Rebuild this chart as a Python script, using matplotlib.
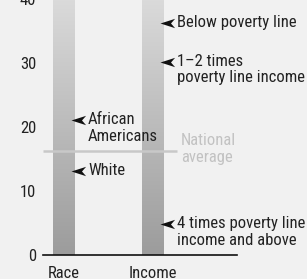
import numpy as np
import matplotlib
matplotlib.use("Agg")
import matplotlib.pyplot as plt
from matplotlib.path import Path
from matplotlib.colors import LinearSegmentedColormap

# ---- data ----
categories = ["Race", "Income"]
bar_tops = [41, 41]                      # scale bars run to top of chart
yticks = [0, 10, 20, 30, 40]
national_average = 16.2

race_labels = ["African\nAmericans", "White"]
race_values = [21.1, 13.2]
income_labels = ["Below poverty line", "1\u20132 times\npoverty line income",
                 "4 times poverty line\nincome and above"]
income_values = [36.2, 30.2, 4.9]

# ---- style ----
BG = "#f1f1f1"
TXT = "#222222"
FONT = ["Roboto Condensed", "DejaVu Sans"]
FS = 12
LS = 1.15

W, H, DPI = 307, 279, 100
fig = plt.figure(figsize=(W / DPI, H / DPI), dpi=DPI, facecolor=BG)
ax_left, ax_right = 43, 237
ax_bottom = H - 255.3
ax_height = 40 * 6.41
ax = fig.add_axes([ax_left / W, ax_bottom / H, (ax_right - ax_left) / W, ax_height / H])
ax.set_facecolor(BG)
ax.patch.set_alpha(0)

px_per_x = 89.0
xmin = (ax_left - 64) / px_per_x
xmax = (ax_right - 64) / px_per_x

bar_w = 22 / px_per_x
xpos = np.arange(len(categories))
grad = np.linspace(0, 1, 256).reshape(-1, 1)
cmap = LinearSegmentedColormap.from_list("g", ["#9c9c9c", "#dcdcdc"])
for x, top in zip(xpos, bar_tops):
    rect = ax.bar(x, top, width=bar_w, color="none", edgecolor="none")[0]
    im = ax.imshow(grad, extent=(x - bar_w / 2, x + bar_w / 2, 0, top),
                   origin="lower", cmap=cmap, aspect="auto", zorder=1)
    im.set_clip_path(rect)
ax.set_xlim(xmin, xmax)
ax.set_ylim(0, 40)

# national average line
ax.plot([xmin, (177 - 64) / px_per_x], [national_average] * 2,
        color="#c8c8c8", lw=1.8, zorder=2, solid_capstyle="butt")
ax.annotate("National\naverage", xy=((181 - 64) / px_per_x, national_average),
            xytext=(0, 13), textcoords="offset points",
            color="#c2c2c2", fontsize=FS, family=FONT, va="top",
            ha="left", linespacing=LS)

# arrow marker
arrow = Path([(0, 0), (1, 0.32), (0.72, 0), (1, -0.32), (0, 0)],
             [Path.MOVETO, Path.LINETO, Path.LINETO, Path.LINETO, Path.CLOSEPOLY])
tip_off = 7 / px_per_x
text_off = 24 / px_per_x

def annotate(xc, values, labels):
    for v, lab in zip(values, labels):
        ax.plot(xc + tip_off, v, marker=arrow, markersize=21, color="#111111",
                markeredgewidth=0, zorder=4, clip_on=False)
        ax.annotate(lab, xy=(xc + text_off, v), xytext=(0, 5.8),
                    textcoords="offset points", va="top", ha="left",
                    fontsize=FS, family=FONT, color=TXT, linespacing=LS,
                    annotation_clip=False)

annotate(xpos[0], race_values, race_labels)
annotate(xpos[1], income_values, income_labels)

for s in ["top", "right", "left"]:
    ax.spines[s].set_visible(False)
ax.spines["bottom"].set_color("#111111")
ax.spines["bottom"].set_linewidth(1.2)
ax.set_yticks(yticks)
ax.set_yticklabels([str(t) for t in yticks], family=FONT, fontsize=FS, color=TXT)
ax.tick_params(axis="y", length=0, pad=5)
ax.set_xticks(xpos)
ax.set_xticklabels(categories, family=FONT, fontsize=FS, color=TXT)
ax.tick_params(axis="x", length=0, pad=7.5)

fig.savefig("out.png", dpi=DPI, facecolor=BG)
